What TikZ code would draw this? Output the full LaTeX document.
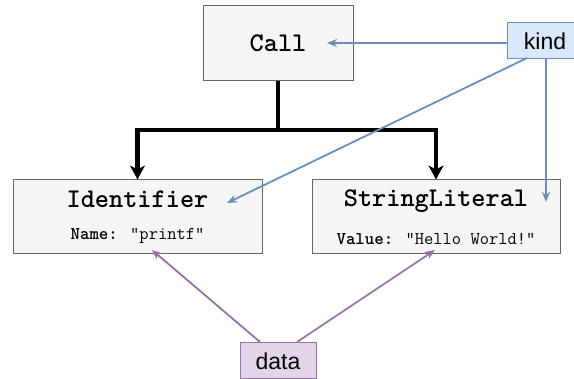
\documentclass[tikz,border=0pt]{standalone}
\usepackage{fontspec}
\setmainfont{Liberation Sans}
\usetikzlibrary{arrows.meta}
\definecolor{boxgray}{HTML}{F5F5F5}
\definecolor{boxline}{HTML}{666666}
\definecolor{kindfill}{HTML}{DAE8FC}
\definecolor{kindline}{HTML}{6C8EBF}
\definecolor{datafill}{HTML}{E1D5E7}
\definecolor{dataline}{HTML}{9673A6}
\newcommand{\bigmono}{\ttfamily\bfseries\addfontfeature{FakeBold=1.5}\fontsize{27}{30}\selectfont}
\newcommand{\smallmono}{\ttfamily\fontsize{18}{20}\selectfont}
\newcommand{\smallbold}[1]{{\bfseries\addfontfeature{FakeBold=1}#1}}
\begin{document}
\begin{tikzpicture}[x=1pt,y=-1pt,
  graybox/.style={draw=boxline, fill=boxgray, line width=1pt, inner sep=0pt, align=center},
  tagbox/.style={line width=1pt, inner sep=0pt, minimum width=76pt, minimum height=36pt, font=\fontsize{23}{26}\selectfont},
  bluearrow/.style={draw=kindline, line width=1.8pt, -{Stealth[length=10pt,width=8pt,inset=3pt]}},
  purplearrow/.style={draw=dataline, line width=1.8pt, -{Stealth[length=10pt,width=8pt,inset=3pt]}},
  treearrow/.style={draw=black, line width=4.5pt, -{Stealth[length=14pt,width=15pt,inset=4pt]}},
  treeline/.style={draw=black, line width=4.5pt}
]
\useasboundingbox (0,0) rectangle (574,379);
\node[graybox, minimum width=150pt, minimum height=75pt, font=\bigmono] (call) at (278,43) {Call};
\node[graybox, minimum width=249pt, minimum height=74pt] (ident) at (137.5,217)
  {{\bigmono Identifier}\\[20pt]{\smallmono\smallbold{Name:} "printf"}};
\node[graybox, minimum width=248pt, minimum height=74pt] (strlit) at (436,217)
  {{\bigmono StringLiteral}\\[20pt]{\smallmono\smallbold{Value:} "Hello World!"}};
\node[tagbox, draw=kindline, fill=kindfill] (kind) at (545,41) {kind};
\node[tagbox, draw=dataline, fill=datafill] (data) at (278,361) {data};
% tree connectors
\coordinate (split) at (278,130);
\coordinate (splitl) at (137.5,130);
\coordinate (splitr) at (436,130);
\draw[treeline] (call.south) -- (split);
\draw[treearrow] (splitl) -- (ident.north);
\draw[treearrow] (splitr) -- (strlit.north);
\draw[treeline] ([xshift=-2.25pt]splitl) -- ([xshift=2.25pt]splitr);
% kind arrows
\coordinate (callin) at (327,43);
\coordinate (identin) at (227,203);
\coordinate (strin) at (546,202);
\coordinate (kindd) at (527,58);
\coordinate (kindv) at (546,58);
\draw[bluearrow] (kind.west |- callin) -- (callin);
\draw[bluearrow] (kindd) -- (identin);
\draw[bluearrow] (kindv) -- (strin);
% data arrows
\coordinate (datal) at (260,342);
\coordinate (datar) at (297,342);
\coordinate (identdata) at (152,250);
\coordinate (strdata) at (435,250);
\draw[purplearrow] (datal) -- (identdata);
\draw[purplearrow] (datar) -- (strdata);
\end{tikzpicture}
\end{document}
